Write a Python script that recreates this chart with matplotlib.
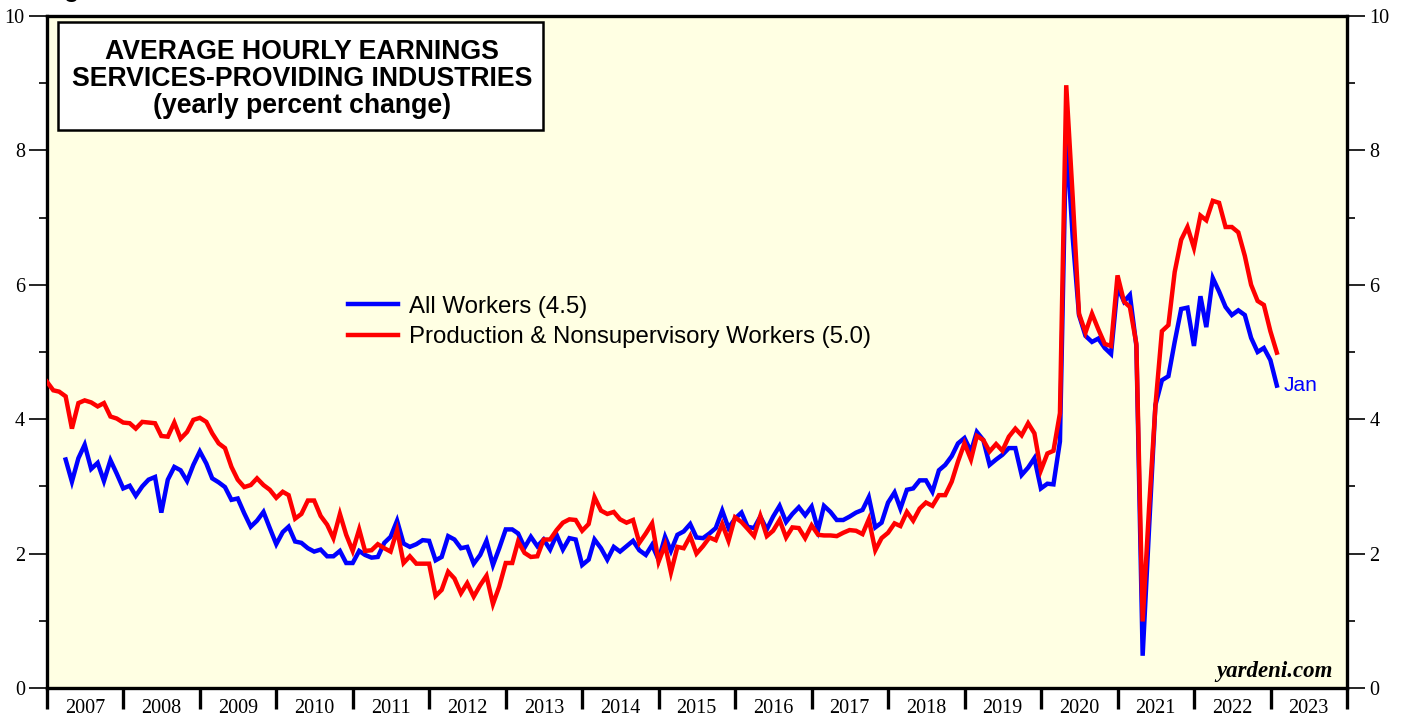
import numpy as np
import pandas as pd
import matplotlib
matplotlib.use('Agg')
import matplotlib.pyplot as plt
import matplotlib.dates as mdates
from matplotlib.patches import Rectangle
from matplotlib.ticker import NullFormatter, MultipleLocator

# yearly % change, monthly
# production & nonsupervisory workers, Dec 2006 .. Jan 2023
prod_workers = [
    4.56, 4.43, 4.41, 4.34, 3.86, 4.24, 4.28, 4.25, 4.19, 4.24, 4.04, 4.01,
    3.95, 3.94, 3.86, 3.96, 3.95, 3.94, 3.75, 3.74, 3.95, 3.71, 3.81, 3.99,
    4.02, 3.96, 3.79, 3.64, 3.57, 3.29, 3.10, 2.99, 3.02, 3.12, 3.02, 2.95,
    2.83, 2.92, 2.87, 2.52, 2.59, 2.79, 2.79, 2.56, 2.43, 2.23, 2.59, 2.28,
    2.04, 2.36, 2.04, 2.05, 2.14, 2.08, 2.03, 2.35, 1.86, 1.96, 1.85, 1.85,
    1.85, 1.37, 1.46, 1.73, 1.63, 1.41, 1.56, 1.36, 1.53, 1.67, 1.25, 1.51,
    1.86, 1.86, 2.18, 2.01, 1.95, 1.96, 2.21, 2.21, 2.35, 2.46, 2.51, 2.50,
    2.34, 2.44, 2.84, 2.64, 2.59, 2.62, 2.51, 2.46, 2.50, 2.16, 2.30, 2.45,
    1.88, 2.13, 1.72, 2.10, 2.08, 2.26, 2.00, 2.11, 2.24, 2.20, 2.44, 2.19,
    2.54, 2.47, 2.37, 2.26, 2.56, 2.26, 2.34, 2.50, 2.24, 2.39, 2.38, 2.23,
    2.42, 2.28, 2.27, 2.27, 2.26, 2.31, 2.35, 2.34, 2.29, 2.51, 2.05, 2.23,
    2.31, 2.45, 2.41, 2.62, 2.49, 2.67, 2.76, 2.71, 2.87, 2.87, 3.07, 3.37,
    3.64, 3.40, 3.75, 3.69, 3.52, 3.63, 3.53, 3.74, 3.86, 3.76, 3.94, 3.79,
    3.24, 3.49, 3.53, 4.09, 8.97, 7.30, 5.57, 5.29, 5.57, 5.34, 5.12, 5.09,
    6.14, 5.75, 5.67, 5.12, 0.99, 2.70, 4.20, 5.31, 5.40, 6.19, 6.67, 6.86,
    6.55, 7.03, 6.96, 7.25, 7.22, 6.86, 6.86, 6.78, 6.43, 6.00, 5.76, 5.70,
    5.31, 4.99,
]

# all workers, Mar 2007 .. Jan 2023
all_workers = [
    3.40, 3.07, 3.42, 3.62, 3.26, 3.35, 3.08, 3.39, 3.19, 2.97,
    3.01, 2.86, 3.00, 3.10, 3.14, 2.61, 3.10, 3.29, 3.24, 3.08, 3.32, 3.52,
    3.34, 3.12, 3.06, 2.99, 2.80, 2.82, 2.60, 2.40, 2.49, 2.62, 2.38, 2.14,
    2.32, 2.40, 2.18, 2.16, 2.08, 2.03, 2.06, 1.96, 1.96, 2.04, 1.86, 1.86,
    2.04, 1.98, 1.94, 1.95, 2.16, 2.25, 2.49, 2.15, 2.10, 2.14, 2.20, 2.19,
    1.90, 1.95, 2.26, 2.21, 2.08, 2.10, 1.85, 1.98, 2.19, 1.83, 2.08, 2.36,
    2.36, 2.30, 2.09, 2.25, 2.11, 2.21, 2.06, 2.28, 2.06, 2.23, 2.21, 1.83,
    1.91, 2.21, 2.08, 1.91, 2.10, 2.03, 2.11, 2.19, 2.05, 1.98, 2.13, 1.91,
    2.25, 2.04, 2.28, 2.33, 2.44, 2.24, 2.23, 2.30, 2.38, 2.64, 2.38, 2.52,
    2.61, 2.40, 2.38, 2.55, 2.36, 2.55, 2.71, 2.47, 2.59, 2.69, 2.57, 2.70,
    2.35, 2.71, 2.62, 2.50, 2.50, 2.55, 2.61, 2.65, 2.84, 2.39, 2.46, 2.76,
    2.91, 2.67, 2.95, 2.97, 3.09, 3.09, 2.92, 3.24, 3.32, 3.45, 3.64, 3.72,
    3.52, 3.81, 3.69, 3.32, 3.40, 3.47, 3.57, 3.57, 3.17, 3.28, 3.42, 2.97,
    3.04, 3.03, 3.67, 8.28, 6.70, 5.55, 5.24, 5.15, 5.20, 5.06, 4.97, 5.97,
    5.75, 5.85, 5.09, 0.48, 2.40, 4.21, 4.58, 4.64, 5.15, 5.64, 5.66, 5.09,
    5.83, 5.37, 6.10, 5.90, 5.67, 5.55, 5.62, 5.55, 5.21, 5.00, 5.06, 4.88,
    4.50,
]

prod_dates = pd.date_range(end='2023-01-31', periods=len(prod_workers), freq='ME')
all_dates = pd.date_range(end='2023-01-31', periods=len(all_workers), freq='ME')

sans = 'Liberation Sans'
serif = 'Liberation Serif'

fig = plt.figure(figsize=(14.03, 7.19), dpi=100)
ax = fig.add_axes([47/1403, 1 - 688/719, 1300/1403, 672/719])
ax.set_facecolor('#ffffe3')

ax.plot(all_dates, all_workers, color='#0000ff', lw=3.2, solid_joinstyle='miter',
        label='All Workers (4.5)', zorder=3)
ax.plot(prod_dates, prod_workers, color='#ff0000', lw=3.2, solid_joinstyle='miter',
        label='Production & Nonsupervisory Workers (5.0)', zorder=4)

ax.set_xlim(pd.Timestamp('2007-01-01'), pd.Timestamp('2024-01-01'))
ax.set_ylim(0, 10)

for s in ax.spines.values():
    s.set_linewidth(2.4)

# x axis: year boundaries as ticks, labels centred in the year
ax.xaxis.set_major_locator(mdates.YearLocator())
ax.xaxis.set_major_formatter(NullFormatter())
ax.xaxis.set_minor_locator(mdates.MonthLocator(bymonth=7, bymonthday=1))
ax.xaxis.set_minor_formatter(mdates.DateFormatter('%Y'))
ax.tick_params(axis='x', which='major', direction='out', length=15, width=2.4)
ax.tick_params(axis='x', which='minor', length=0, pad=8, labelsize=14.5)

# y axis, both sides
ax.yaxis.set_major_locator(MultipleLocator(2))
ax.yaxis.set_minor_locator(MultipleLocator(1))
ax.tick_params(axis='y', which='major', direction='out', length=13, width=1.2,
               left=True, right=True, labelleft=True, labelright=True, pad=3,
               labelsize=14.5)
ax.tick_params(axis='y', which='minor', direction='out', length=6, width=1.2,
               left=True, right=True)

plt.setp(ax.get_xticklabels(minor=True), fontfamily=serif)
plt.setp(ax.yaxis.get_ticklabels(), fontfamily=serif)

# title box
ax.add_patch(Rectangle((11/1300, 1 - 114/672), 485/1300, 108/672,
                       transform=ax.transAxes, facecolor='white', edgecolor='black',
                       lw=1.8, zorder=5))
ax.text(0.196, 0.906, 'AVERAGE HOURLY EARNINGS\nSERVICES-PROVIDING INDUSTRIES\n(yearly percent change)',
        transform=ax.transAxes, ha='center', va='center', fontsize=19.2,
        fontweight='bold', fontfamily=sans, linespacing=1.04, zorder=6)

leg = ax.legend(loc='upper left', bbox_to_anchor=(0.2315, 0.584), frameon=False,
                prop={'family': sans, 'size': 17.3}, handlelength=2.1,
                handletextpad=0.42, labelspacing=0.36, borderpad=0, borderaxespad=0)

ax.annotate('Jan', xy=(all_dates[-1], all_workers[-1]), xytext=(5, 0),
            textcoords='offset points', color='#0000ff', fontsize=15,
            fontfamily=sans, va='center', ha='left')

ax.text(0.989, 0.024, 'yardeni.com', transform=ax.transAxes, ha='right', va='center',
        fontsize=16.5, fontweight='bold', fontstyle='italic', fontfamily=serif)

fig.text(0.03, 1.004, 'Figure 8.', fontsize=18, fontweight='bold', fontfamily=sans,
         va='baseline', ha='left')

fig.savefig('out.png', dpi=100)
